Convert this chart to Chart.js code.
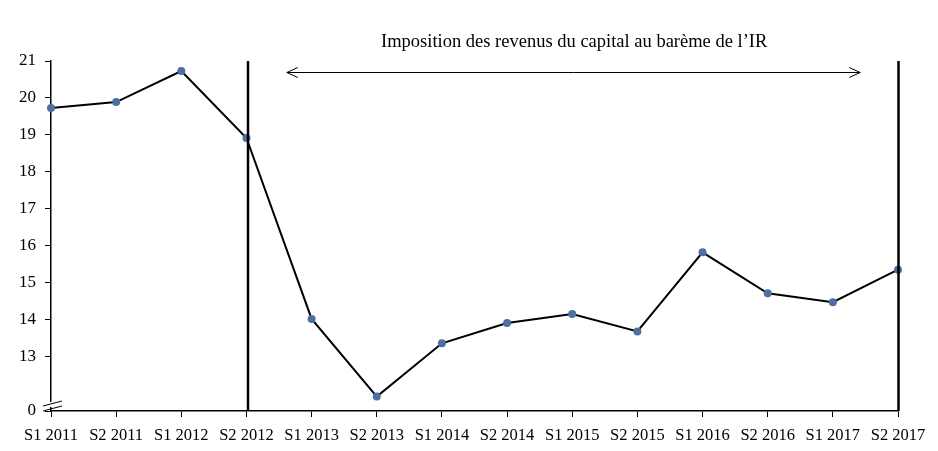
<!DOCTYPE html>
<html>
<head>
<meta charset="utf-8">
<script src="https://cdn.jsdelivr.net/npm/chart.js@4"></script>
<style>
  html, body { margin: 0; padding: 0; background: #fff; }
  #wrap { width: 938px; height: 451px; position: relative; }
</style>
</head>
<body>
<div id="wrap"><canvas id="chart"></canvas></div>
<script>
const categories = ['S1 2011', 'S2 2011', 'S1 2012', 'S2 2012', 'S1 2013', 'S2 2013', 'S1 2014',
  'S2 2014', 'S1 2015', 'S2 2015', 'S1 2016', 'S2 2016', 'S1 2017', 'S2 2017'];
const values = [19.73, 19.89, 20.73, 18.92, 14.03, 11.93, 13.37, 13.92, 14.16, 13.69, 15.83, 14.72, 14.48, 15.36];
const yTicks = [13, 14, 15, 16, 17, 18, 19, 20, 21];
// the broken axis: the bottom of the scale is labelled "0"
const yBreakMin = 11.54;
const yBreakLabel = '0';
const markerLines = ['S2 2012', 'S2 2017'];
const annotationText = 'Imposition des revenus du capital au barème de l\u2019IR';

const FONT = '"Liberation Serif", "Times New Roman", serif';

// draws the vertical markers, the double arrow, its caption and the axis break
const overlayPlugin = {
  id: 'overlay',
  afterDatasetsDraw(chart) {
    const { ctx, chartArea, scales } = chart;
    const x = scales.x;
    ctx.save();

    ctx.strokeStyle = '#000';
    ctx.lineWidth = 2.5;
    markerLines.forEach((label, i) => {
      const idx = categories.indexOf(label);
      const px = Math.round(x.getPixelForValue(idx)) + (i === 0 ? 2 : 0.5);
      ctx.beginPath();
      ctx.moveTo(px, chartArea.top);
      ctx.lineTo(px, chartArea.bottom);
      ctx.stroke();
    });

    // double arrow
    const ay = chartArea.top + 11.5;
    const ax1 = x.getPixelForValue(3.62);
    const ax2 = x.getPixelForValue(12.42);
    ctx.lineWidth = 1;
    ctx.beginPath();
    ctx.moveTo(ax1, ay);
    ctx.lineTo(ax2, ay);
    ctx.moveTo(ax1 + 11, ay - 5);
    ctx.lineTo(ax1, ay);
    ctx.lineTo(ax1 + 11, ay + 5);
    ctx.moveTo(ax2 - 11, ay - 5);
    ctx.lineTo(ax2, ay);
    ctx.lineTo(ax2 - 11, ay + 5);
    ctx.stroke();

    ctx.fillStyle = '#000';
    ctx.font = '18.5px ' + FONT;
    ctx.textAlign = 'center';
    ctx.textBaseline = 'middle';
    ctx.fillText(annotationText, x.getPixelForValue(8.03), chartArea.top - 19);

    // axis break marks
    const bx = chartArea.left;
    const by = chartArea.bottom;
    ctx.fillStyle = '#fff';
    ctx.fillRect(bx - 2, by - 9, 4, 5);
    ctx.strokeStyle = '#000';
    ctx.lineWidth = 1;
    ctx.beginPath();
    ctx.moveTo(bx - 8, by - 5);
    ctx.lineTo(bx + 11, by - 10);
    ctx.moveTo(bx - 8, by + 0);
    ctx.lineTo(bx + 11, by - 5);
    ctx.stroke();
    ctx.restore();
  }
};

new Chart(document.getElementById('chart'), {
  type: 'line',
  data: {
    labels: categories,
    datasets: [{
      data: values,
      borderColor: '#000',
      borderWidth: 2,
      tension: 0,
      pointRadius: 4,
      pointBackgroundColor: '#4f6fa0',
      pointBorderColor: '#4f6fa0',
      pointBorderWidth: 0
    }]
  },
  options: {
    responsive: true,
    maintainAspectRatio: false,
    animation: false,
    layout: { padding: { top: 61, right: 40, left: 0, bottom: 0 } },
    plugins: {
      legend: { display: false },
      tooltip: { enabled: false }
    },
    scales: {
      x: {
        offset: false,
        grid: { drawOnChartArea: false, tickLength: 6, color: '#000', tickWidth: 1 },
        border: { color: '#000', width: 1.5 },
        ticks: {
          color: '#000',
          font: { family: FONT, size: 16.5 },
          maxRotation: 0,
          autoSkip: false,
          padding: 9
        },
        afterFit(axis) { axis.height = 40; }
      },
      y: {
        min: yBreakMin,
        max: 21,
        grid: { drawOnChartArea: false, tickLength: 6, color: '#000', tickWidth: 1 },
        border: { color: '#000', width: 1.5 },
        ticks: {
          color: '#000',
          font: { family: FONT, size: 17 },
          padding: 9,
          callback: v => (v < yTicks[0] ? yBreakLabel : v)
        },
        afterBuildTicks(axis) {
          axis.ticks = [yBreakMin].concat(yTicks).map(v => ({ value: v }));
        },
        afterFit(axis) { axis.width = 51; }
      }
    }
  },
  plugins: [overlayPlugin]
});
</script>
</body>
</html>
